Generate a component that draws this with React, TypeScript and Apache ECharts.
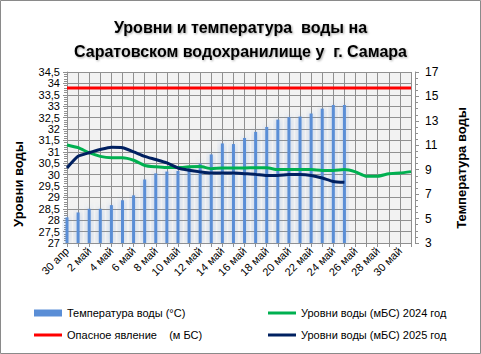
import React, { useEffect, useRef } from "react";
import * as echarts from "echarts";

const categories = [
  "30 апр", "1 май", "2 май", "3 май", "4 май", "5 май", "6 май", "7 май", "8 май", "9 май",
  "10 май", "11 май", "12 май", "13 май", "14 май", "15 май", "16 май", "17 май", "18 май", "19 май",
  "20 май", "21 май", "22 май", "23 май", "24 май", "25 май", "26 май", "27 май", "28 май", "29 май",
  "30 май", "31 май",
];

const waterTemp = [
  5.1, 5.5, 5.8, 5.8, 6.1, 6.5, 6.9, 8.2, 8.7, 8.85, 8.9, 9.2, 9.5, 10.25, 11.15, 11.1,
  11.6, 12.1, 12.5, 13.1, 13.3, 13.35, 13.6, 14.0, 14.3, 14.3,
];

const level2024 = [
  31.3, 31.18, 30.96, 30.8, 30.74, 30.74, 30.63, 30.4, 30.34, 30.31, 30.31, 30.34, 30.35, 30.26,
  30.29, 30.29, 30.29, 30.3, 30.3, 30.22, 30.22, 30.22, 30.22, 30.18, 30.18, 30.22, 30.12, 29.93,
  29.93, 30.04, 30.07, 30.13,
];

const level2025 = [
  30.29, 30.8, 30.96, 31.1, 31.2, 31.18, 31.0, 30.8, 30.66, 30.51, 30.29, 30.19, 30.12, 30.07,
  30.07, 30.07, 30.04, 30.01, 29.96, 29.96, 30.0, 30.0, 29.96, 29.85, 29.7, 29.66,
];

const dangerLevel = categories.map(() => 33.8);

const titleText = "Уровни и температура  воды на\nСаратовском водохранилище у  г. Самара";
const leftAxisName = "Уровни воды";
const rightAxisName = "Температура воды";
const nameTemp = "Температура воды (°C)";
const nameDanger = "Опасное явление    (м БС)";
const name2024 = "Уровни воды (мБС) 2024 год";
const name2025 = "Уровни воды (мБС) 2025 год";

const FONT = "Liberation Sans";
const GRID_COLOR = "#909090";

const legendText = { fontFamily: FONT, fontSize: 11, color: "#000", lineHeight: 14 };

export default function App() {
  const ref = useRef<HTMLDivElement>(null);
  useEffect(() => {
    document.body.style.margin = "0";
    if (!ref.current) return;
    const chart = echarts.init(ref.current, null, { renderer: "svg" });
    chart.setOption({
      animation: false,
      backgroundColor: "#ffffff",
      textStyle: { fontFamily: FONT },
      title: {
        text: titleText,
        left: "center",
        top: 10,
        textStyle: {
          fontFamily: FONT,
          fontSize: 16,
          fontWeight: "bold",
          color: "#000",
          lineHeight: 24,
          textShadowColor: "rgba(0,0,0,0.35)",
          textShadowBlur: 2,
          textShadowOffsetX: 1,
          textShadowOffsetY: 1,
        },
      },
      grid: {
        left: 67,
        right: 70,
        top: 72,
        bottom: 111,
        show: true,
        backgroundColor: "#f2f2f2",
        borderWidth: 0,
        containLabel: false,
      },
      legend: [
        {
          orient: "vertical",
          left: 34,
          top: 306,
          padding: 0,
          itemWidth: 28,
          itemHeight: 7,
          textStyle: legendText,
          data: [{ name: nameTemp, icon: "rect" }],
        },
        {
          orient: "vertical",
          left: 34,
          top: 328,
          padding: 0,
          itemWidth: 28,
          itemHeight: 3,
          textStyle: legendText,
          data: [{ name: nameDanger, icon: "rect" }],
        },
        {
          orient: "vertical",
          left: 268,
          top: 306,
          padding: 0,
          itemWidth: 28,
          itemHeight: 3,
          itemGap: 8,
          textStyle: legendText,
          data: [
            { name: name2024, icon: "rect" },
            { name: name2025, icon: "rect" },
          ],
        },
      ],
      xAxis: {
        type: "category",
        data: categories,
        boundaryGap: false,
        axisLine: { lineStyle: { color: GRID_COLOR } },
        axisTick: { show: true, interval: 0, length: 4, lineStyle: { color: GRID_COLOR } },
        axisLabel: {
          interval: 1,
          rotate: 45,
          fontSize: 11,
          color: "#000",
          fontFamily: FONT,
          margin: 6,
        },
        splitLine: { show: true, interval: 0, lineStyle: { color: GRID_COLOR, width: 1 } },
      },
      yAxis: [
        {
          type: "value",
          min: 27,
          max: 34.5,
          interval: 0.5,
          axisLine: { show: true, lineStyle: { color: GRID_COLOR } },
          axisTick: { show: true, length: 4, lineStyle: { color: GRID_COLOR } },
          minorTick: { show: true, splitNumber: 5, length: 3, lineStyle: { color: GRID_COLOR } },
          axisLabel: {
            fontSize: 11,
            lineHeight: 10,
            color: "#000",
            fontFamily: FONT,
            margin: 7,
            showMinLabel: true,
            showMaxLabel: true,
            hideOverlap: false,
            formatter: (v: number) => String(v).replace(".", ","),
          },
          splitLine: { show: true, lineStyle: { color: GRID_COLOR, width: 1 } },
        },
        {
          type: "value",
          min: 3,
          max: 17,
          interval: 2,
          position: "right",
          offset: 4,
          axisLine: { show: true, lineStyle: { color: GRID_COLOR } },
          axisTick: { show: true, length: 4, lineStyle: { color: GRID_COLOR } },
          minorTick: { show: true, splitNumber: 4, length: 3, lineStyle: { color: GRID_COLOR } },
          axisLabel: {
            fontSize: 12,
            color: "#000",
            fontFamily: FONT,
            margin: 10,
            showMinLabel: true,
            showMaxLabel: true,
          },
          splitLine: { show: false },
        },
      ],
      graphic: [
        {
          type: "rect",
          shape: { x: 0.5, y: 0.5, width: 480, height: 353 },
          style: { fill: "none", stroke: "#8a8a8a", lineWidth: 1 },
          silent: true,
        },
        {
          type: "text",
          x: 18,
          y: 184,
          rotation: Math.PI / 2,
          style: {
            text: leftAxisName,
            font: `bold 13px "${FONT}"`,
            fill: "#000",
            align: "center",
            verticalAlign: "middle",
          },
        },
        {
          type: "text",
          x: 461,
          y: 168,
          rotation: Math.PI / 2,
          style: {
            text: rightAxisName,
            font: `bold 13px "${FONT}"`,
            fill: "#000",
            align: "center",
            verticalAlign: "middle",
          },
        },
      ],
      series: [
        {
          name: nameTemp,
          type: "bar",
          yAxisIndex: 1,
          data: waterTemp,
          barWidth: 3,
          z: 1,
          itemStyle: {
            color: "#5a8ed6",
            shadowColor: "rgba(90,142,214,0.5)",
            shadowBlur: 6,
          },
        },
        {
          name: nameDanger,
          type: "line",
          yAxisIndex: 0,
          data: dangerLevel,
          symbol: "none",
          lineStyle: { color: "#ff0000", width: 3 },
          itemStyle: { color: "#ff0000" },
          z: 3,
        },
        {
          name: name2024,
          type: "line",
          yAxisIndex: 0,
          data: level2024,
          symbol: "none",
          smooth: 0.2,
          lineStyle: { color: "#00b050", width: 3 },
          itemStyle: { color: "#00b050" },
          z: 4,
        },
        {
          name: name2025,
          type: "line",
          yAxisIndex: 0,
          data: level2025,
          symbol: "none",
          smooth: 0.2,
          lineStyle: { color: "#002060", width: 3 },
          itemStyle: { color: "#002060" },
          z: 5,
        },
      ],
    });
    return () => chart.dispose();
  }, []);
  return <div ref={ref} style={{ width: 481, height: 354 }} />;
}
